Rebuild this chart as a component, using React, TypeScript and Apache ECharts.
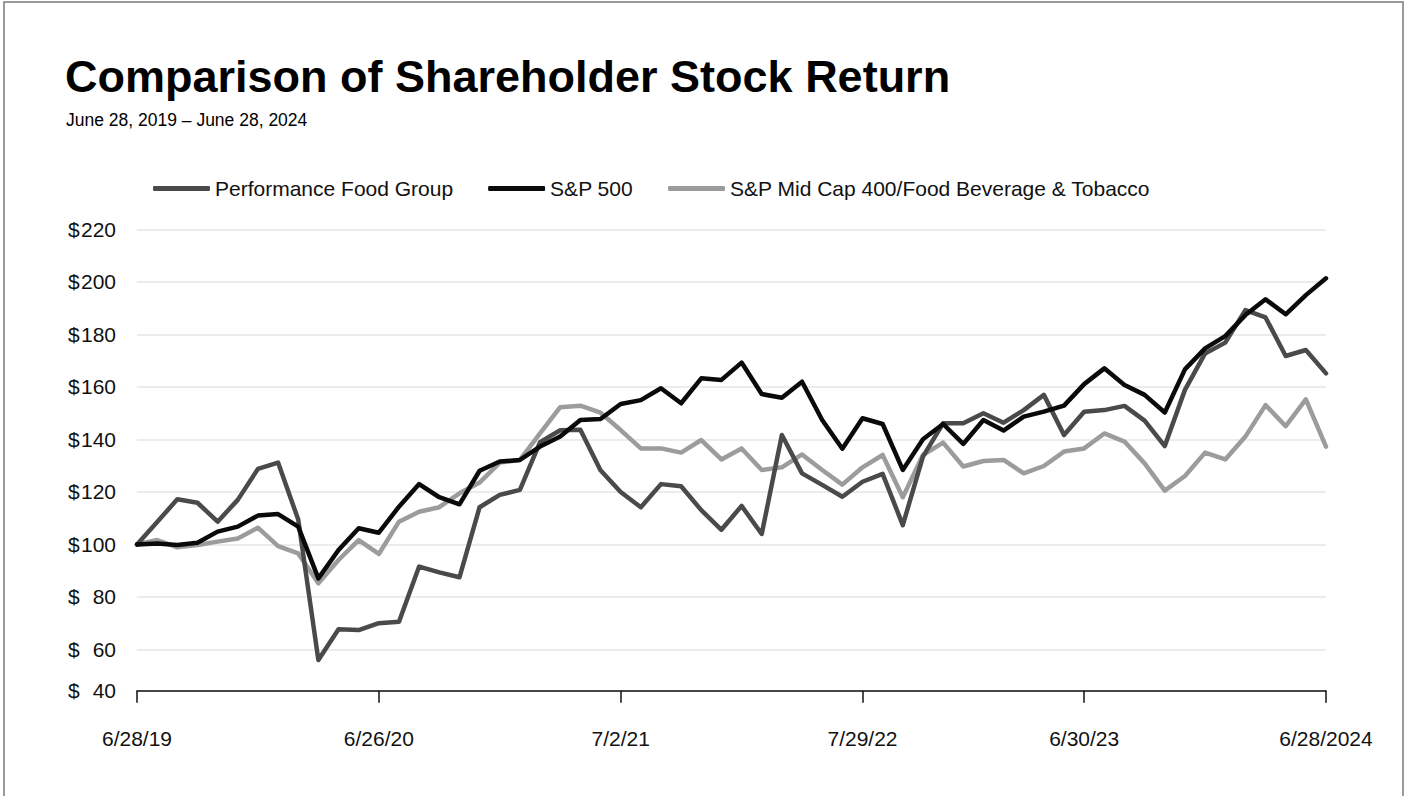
import React, { useEffect, useRef } from 'react';
import * as echarts from 'echarts';

const seriesNames = [
  'Performance Food Group',
  'S&P 500',
  'S&P Mid Cap 400/Food Beverage & Tobacco',
];

const pfg = [
  100, 108.6, 117.2, 115.9, 108.7, 117, 128.8, 131.2, 109.5, 56,
  67.7, 67.4, 70, 70.6, 91.6, 89.4, 87.5, 114.2, 118.9, 120.8,
  139, 143.5, 143.7, 128.3, 120, 114.2, 123, 122.2, 113.1, 105.6,
  114.7, 104, 141.7, 127.1, 122.7, 118.2, 123.9, 126.9, 107.4, 133.5,
  146.2, 146.2, 150, 146.4, 151.2, 157, 141.7, 150.6, 151.2, 152.8,
  147.2, 137.5, 158.9, 172.8, 176.9, 189.3, 186.5, 171.8, 174.1, 165.2,
];

const sp500 = [
  100, 100.4, 99.8, 100.7, 104.9, 106.8, 111, 111.6, 106.8, 87.1,
  97.9, 106.2, 104.5, 114.4, 123, 118, 115.3, 128.1, 131.6, 132.2,
  137.3, 141.1, 147.4, 147.8, 153.5, 155, 159.5, 153.8, 163.3, 162.7,
  169.3, 157.3, 155.9, 162, 147.4, 136.5, 148.1, 145.9, 128.4, 140.1,
  145.9, 138.3, 147.4, 143.4, 148.7, 150.6, 152.9, 161.1, 167.1, 160.8,
  157, 150.3, 166.7, 174.7, 179.4, 187.4, 193.4, 187.7, 195, 201.4,
];

const midcap = [
  100, 101.7, 98.9, 99.8, 101.1, 102.3, 106.4, 99.4, 96.6, 85.2,
  94.1, 101.7, 96.4, 108.7, 112.5, 114.2, 119.5, 123.6, 131.2, 132.2,
  142.3, 152.3, 152.9, 150.2, 143.6, 136.6, 136.6, 135, 139.8, 132.4,
  136.6, 128.4, 129.4, 134.3, 128.4, 122.8, 129.4, 134.1, 118, 134.1,
  138.8, 129.7, 131.8, 132.2, 127.1, 129.9, 135.4, 136.6, 142.3, 139.2,
  130.9, 120.5, 126.1, 135, 132.4, 141.1, 153.1, 145.1, 155.3, 137.3,
];

const xTickIndices = [0, 12, 24, 36, 47, 59];
const xTickLabels = ['6/28/19', '6/26/20', '7/2/21', '7/29/22', '6/30/23', '6/28/2024'];

const yAxisMin = 44.3;
const yAxisMax = 220;
const yTickValues = [44.3, 60, 80, 100, 120, 140, 160, 180, 200, 220];
const yTickLabels = ['40', '60', '80', '100', '120', '140', '160', '180', '200', '220'];

const colors = ['#4a4a4a', '#0a0a0a', '#9c9c9c'];

const FONT = '"Liberation Sans", Arial, Helvetica, sans-serif';

export default function App() {
  const ref = useRef<HTMLDivElement>(null);

  useEffect(() => {
    if (!ref.current) return;
    const chart = echarts.init(ref.current, undefined, { renderer: 'svg' });
    const periods = pfg.map((_, i) => 'P' + (i + 1));
    const isTick = (index: number) => xTickIndices.indexOf(index) >= 0;
    const allData = [pfg, sp500, midcap];

    chart.setOption({
      animation: false,
      backgroundColor: '#ffffff',
      textStyle: { fontFamily: FONT },
      title: [
        {
          text: 'Comparison of Shareholder Stock Return',
          left: 65,
          top: 54,
          padding: 0,
          textStyle: { fontSize: 45, fontWeight: 'bold', color: '#000', fontFamily: FONT },
        },
        {
          text: 'June 28, 2019 – June 28, 2024',
          left: 66,
          top: 111,
          padding: 0,
          textStyle: { fontSize: 17.5, fontWeight: 'normal', color: '#000', fontFamily: FONT },
        },
      ],
      graphic: [
        {
          type: 'rect',
          shape: { x: 4, y: 2, width: 1399, height: 820 },
          style: { fill: 'none', stroke: '#7a7a7a', lineWidth: 1.5 },
          silent: true,
        },
      ],
      legend: {
        left: 153,
        top: 178,
        padding: 0,
        icon: 'roundRect',
        itemWidth: 57,
        itemHeight: 5,
        itemGap: 35,
        data: seriesNames,
        textStyle: { fontSize: 21, color: '#111', fontFamily: FONT },
      },
      grid: {
        left: 137,
        right: 82,
        top: 229.5,
        bottom: 105.3,
      },
      xAxis: {
        type: 'category',
        data: periods,
        boundaryGap: false,
        axisLine: { show: true, lineStyle: { color: '#111', width: 1.5 } },
        axisTick: {
          show: true,
          interval: (index: number) => isTick(index),
          length: 12,
          lineStyle: { color: '#111', width: 1.5 },
        },
        axisLabel: {
          interval: (index: number) => isTick(index),
          formatter: (_v: string, index: number) => {
            const k = xTickIndices.indexOf(index);
            return k >= 0 ? xTickLabels[k] : '';
          },
          margin: 37,
          fontSize: 21,
          color: '#111',
          fontFamily: FONT,
        },
        splitLine: { show: false },
      },
      yAxis: {
        type: 'value',
        min: yAxisMin,
        max: yAxisMax,
        axisLine: { show: false },
        axisTick: { show: false, customValues: yTickValues },
        axisLabel: {
          customValues: yTickValues,
          margin: 21,
          width: 48,
          fontSize: 21,
          color: '#111',
          fontFamily: FONT,
          formatter: (v: number) => {
            const k = yTickValues.findIndex((t) => Math.abs(t - v) < 0.01);
            const lbl = k >= 0 ? yTickLabels[k] : String(v);
            return '{c|$}{n|' + lbl + '}';
          },
          rich: {
            c: { align: 'left', fontSize: 21, color: '#111', fontFamily: FONT },
            n: { align: 'right', fontSize: 21, color: '#111', fontFamily: FONT },
          },
        },
        splitLine: { show: true, lineStyle: { color: '#e6e6e6', width: 1.5 } },
      },
      series: seriesNames.map((name, i) => ({
        name,
        type: 'line',
        data: allData[i],
        showSymbol: false,
        symbol: 'none',
        color: colors[i],
        lineStyle: { color: colors[i], width: 4.5, join: 'round', cap: 'round' },
        itemStyle: { color: colors[i] },
        z: i === 2 ? 2 : 3 + i,
      })),
    });

    return () => chart.dispose();
  }, []);

  return (
    <div
      ref={ref}
      style={{ position: 'fixed', left: 0, top: 0, width: 1408, height: 796, background: '#fff' }}
    />
  );
}
